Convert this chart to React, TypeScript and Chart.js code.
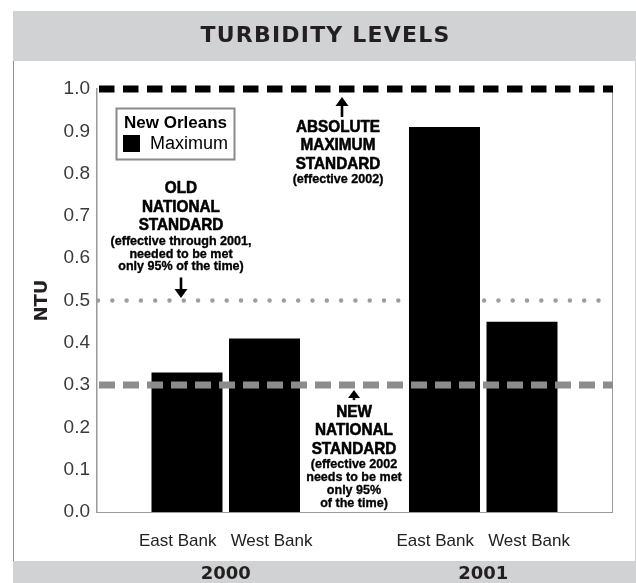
import React, { useEffect, useRef } from "react";
import { Chart, registerables } from "chart.js";

Chart.register(...registerables);

// ---------- data ----------
const TITLE = "TURBIDITY LEVELS";
const YEARS = ["2000", "2001"];
const BANK_LABEL = "East Bank   West Bank";
const EAST_BANK = [0.33, 0.91];
const WEST_BANK = [0.41, 0.45];
const Y_MIN = 0;
const Y_MAX = 1.0;
const Y_STEP = 0.1;
const Y_TITLE = "NTU";

const ABS_MAX_STD = 1.0;
const OLD_STD = 0.5;
const NEW_STD = 0.3;

const LEGEND_TITLE = "New Orleans";
const LEGEND_ITEM = "Maximum";

const ABS_LINES = ["ABSOLUTE", "MAXIMUM", "STANDARD"];
const ABS_NOTE = ["(effective 2002)"];
const OLD_LINES = ["OLD", "NATIONAL", "STANDARD"];
const OLD_NOTE = ["(effective through 2001,", "needed to be met", "only 95% of the time)"];
const NEW_LINES = ["NEW", "NATIONAL", "STANDARD"];
const NEW_NOTE = ["(effective 2002", "needs to be met", "only 95%", "of the time)"];

// ---------- helpers ----------
const MAIN_FONT = "bold 17px 'Liberation Sans', Arial, sans-serif";
const NOTE_FONT = "bold 13.5px 'Liberation Sans', Arial, sans-serif";

function drawText(ctx: CanvasRenderingContext2D, text: string, cx: number, cy: number, font: string, sx: number, stroke: number) {
  ctx.save();
  ctx.translate(cx, cy);
  ctx.scale(sx, 1);
  ctx.font = font;
  ctx.fillStyle = "#000";
  ctx.strokeStyle = "#000";
  ctx.lineWidth = stroke;
  ctx.lineJoin = "round";
  ctx.textAlign = "center";
  ctx.textBaseline = "middle";
  ctx.fillText(text, 0, 0);
  if (stroke > 0) ctx.strokeText(text, 0, 0);
  ctx.restore();
}

function drawBlock(
  ctx: CanvasRenderingContext2D,
  cx: number,
  y0: number,
  main: string[],
  notes: string[],
  mainStep: number,
  noteGap: number,
  noteStep: number
) {
  let y = y0;
  main.forEach((t, i) => {
    y = y0 + i * mainStep;
    drawText(ctx, t, cx, y, MAIN_FONT, 0.9, 0.6);
  });
  const n0 = y + noteGap;
  notes.forEach((t, i) => drawText(ctx, t, cx, n0 + i * noteStep, NOTE_FONT, 0.93, 0.35));
}

function drawArrow(ctx: CanvasRenderingContext2D, x: number, tipY: number, baseY: number, headLen: number, headW: number, stemW: number) {
  const dir = baseY > tipY ? 1 : -1;
  const headBase = tipY + dir * headLen;
  ctx.save();
  ctx.fillStyle = "#000";
  const top = Math.min(headBase, baseY);
  const h = Math.abs(baseY - headBase);
  if (h > 0) ctx.fillRect(x - stemW / 2, top, stemW, h);
  ctx.beginPath();
  ctx.moveTo(x, tipY);
  ctx.lineTo(x - headW / 2, headBase);
  ctx.lineTo(x + headW / 2, headBase);
  ctx.closePath();
  ctx.fill();
  ctx.restore();
}

function hLine(ctx: CanvasRenderingContext2D, x0: number, x1: number, y: number, color: string, width: number, dash: number[], cap: CanvasLineCap) {
  ctx.save();
  ctx.strokeStyle = color;
  ctx.lineWidth = width;
  ctx.lineCap = cap;
  ctx.setLineDash(dash);
  ctx.beginPath();
  ctx.moveTo(x0, y);
  ctx.lineTo(x1, y);
  ctx.stroke();
  ctx.restore();
}

const framePlugin = {
  id: "frame",
  beforeDraw(chart: any) {
    const ctx: CanvasRenderingContext2D = chart.ctx;
    const W = chart.width;
    const H = chart.height;
    ctx.save();
    ctx.fillStyle = "#ffffff";
    ctx.fillRect(0, 0, W, H);
    ctx.fillStyle = "#d1d2d4";
    ctx.fillRect(13, 11, W - 13, 50);
    ctx.fillRect(13, 561, W - 13, H - 561);
    ctx.lineWidth = 1;
    ctx.strokeStyle = "#8f8f8f";
    ctx.beginPath();
    ctx.moveTo(13.5, 61);
    ctx.lineTo(13.5, 561);
    ctx.stroke();
    ctx.strokeStyle = "#cfcfcf";
    ctx.beginPath();
    ctx.moveTo(635.5, 61);
    ctx.lineTo(635.5, 561);
    ctx.stroke();
    ctx.font = "bold 22px 'DejaVu Sans', sans-serif";
    (ctx as any).letterSpacing = "1.2px";
    ctx.fillStyle = "#231f20";
    ctx.textAlign = "center";
    ctx.textBaseline = "middle";
    ctx.fillText(TITLE, (13 + W) / 2 + 1, 36);
    ctx.restore();
  },
  beforeDatasetsDraw(chart: any) {
    const ctx: CanvasRenderingContext2D = chart.ctx;
    const { left, right } = chart.chartArea;
    const y = chart.scales.y.getPixelForValue(OLD_STD);
    hLine(ctx, left + 1, right, y, "#9d9d9d", 4.5, [0, 14.3], "round");
  },
  afterDatasetsDraw(chart: any) {
    const ctx: CanvasRenderingContext2D = chart.ctx;
    const { left, right, top, bottom } = chart.chartArea;
    const ys = chart.scales.y;
    const yAbs = ys.getPixelForValue(ABS_MAX_STD);
    const yOld = ys.getPixelForValue(OLD_STD);
    const yNew = ys.getPixelForValue(NEW_STD);

    // right frame of plot
    ctx.save();
    ctx.strokeStyle = "#9a9a9a";
    ctx.lineWidth = 1;
    ctx.beginPath();
    ctx.moveTo(right + 0.5, top);
    ctx.lineTo(right + 0.5, bottom);
    ctx.stroke();
    ctx.restore();

    // reference lines
    hLine(ctx, left + 2, right + 1, yNew, "#8c8c8c", 7, [16, 8], "butt");
    hLine(ctx, left + 2, right + 1, yAbs, "#000000", 7, [15.5, 8.5], "butt");

    // annotations
    drawArrow(ctx, left + 245, yAbs + 8, yAbs + 28, 9, 13, 2.6);
    drawBlock(ctx, left + 241, yAbs + 38, ABS_LINES, ABS_NOTE, 18.5, 15, 13);

    drawArrow(ctx, left + 84, yOld - 2.5, yOld - 23, 9, 13, 2.6);
    drawBlock(ctx, left + 84, yOld - 112, OLD_LINES, OLD_NOTE, 18.5, 16, 12.5);

    drawArrow(ctx, left + 257, yNew + 5, yNew + 15, 8, 12, 2.6);
    drawBlock(ctx, left + 257, yNew + 27, NEW_LINES, NEW_NOTE, 18.5, 15, 13);

    // legend
    const lx = left + 19;
    const ly = top + 19;
    ctx.save();
    ctx.fillStyle = "#ffffff";
    ctx.fillRect(lx, ly, 119, 52);
    ctx.strokeStyle = "#8a8a8a";
    ctx.lineWidth = 2;
    ctx.strokeRect(lx + 0.5, ly + 0.5, 118, 51);
    ctx.fillStyle = "#000";
    ctx.font = "bold 17px 'Liberation Sans', Arial, sans-serif";
    ctx.textAlign = "center";
    ctx.textBaseline = "middle";
    ctx.fillText(LEGEND_TITLE, lx + 59.5, ly + 15);
    ctx.fillRect(lx + 7, ly + 27, 17, 17);
    ctx.font = "18px 'Liberation Sans', Arial, sans-serif";
    ctx.textAlign = "left";
    ctx.fillText(LEGEND_ITEM, lx + 34, ly + 36.5);
    ctx.restore();
  },
};

export default function App() {
  const ref = useRef<HTMLCanvasElement>(null);
  useEffect(() => {
    document.body.style.margin = "0";
    const barStyle = {
      backgroundColor: "#000000",
      borderWidth: 0,
      categoryPercentage: 0.602,
      barPercentage: 0.916,
    };
    const chart = new Chart(ref.current as HTMLCanvasElement, {
      type: "bar",
      data: {
        labels: YEARS,
        datasets: [
          { label: "East Bank", data: EAST_BANK, ...barStyle },
          { label: "West Bank", data: WEST_BANK, ...barStyle },
        ],
      },
      options: {
        responsive: false,
        animation: false,
        layout: { padding: { top: 89, right: 24, bottom: 0, left: 0 } },
        plugins: {
          legend: { display: false },
          tooltip: { enabled: false },
          title: { display: false },
        },
        scales: {
          x: {
            type: "category",
            position: "bottom",
            weight: 0,
            offset: true,
            grid: { display: false, drawTicks: false },
            border: { display: true, color: "#9a9a9a", width: 1 },
            ticks: {
              callback: () => BANK_LABEL,
              font: { family: "'Liberation Sans', Arial, sans-serif", size: 17 },
              color: "#222222",
              padding: 19,
              maxRotation: 0,
              autoSkip: false,
            },
            afterFit: (s: any) => {
              s.height = 45;
            },
          },
          year: {
            type: "category",
            position: "bottom",
            weight: 1,
            offset: true,
            grid: { display: false, drawTicks: false },
            border: { display: false },
            ticks: {
              font: { family: "'DejaVu Sans', sans-serif", size: 18, weight: "bold" },
              color: "#231f20",
              padding: 7,
              maxRotation: 0,
            },
            afterFit: (s: any) => {
              s.height = 26;
            },
          },
          y: {
            min: Y_MIN,
            max: Y_MAX,
            ticks: {
              stepSize: Y_STEP,
              callback: (v: any) => Number(v).toFixed(1),
              font: { family: "'Liberation Sans', Arial, sans-serif", size: 19 },
              color: "#3a3a3a",
              padding: 7,
            },
            grid: { display: false, drawTicks: false },
            border: { display: true, color: "#9a9a9a", width: 1.5 },
            title: {
              display: true,
              text: Y_TITLE,
              font: { family: "'DejaVu Sans', sans-serif", size: 18, weight: "bold" },
              color: "#231f20",
              padding: { top: 32, bottom: 0 },
            },
            afterFit: (s: any) => {
              s.width = 97;
            },
          },
        },
      } as any,
      plugins: [framePlugin],
    });
    return () => chart.destroy();
  }, []);
  return <canvas ref={ref} width={636} height={583} style={{ display: "block" }} />;
}
